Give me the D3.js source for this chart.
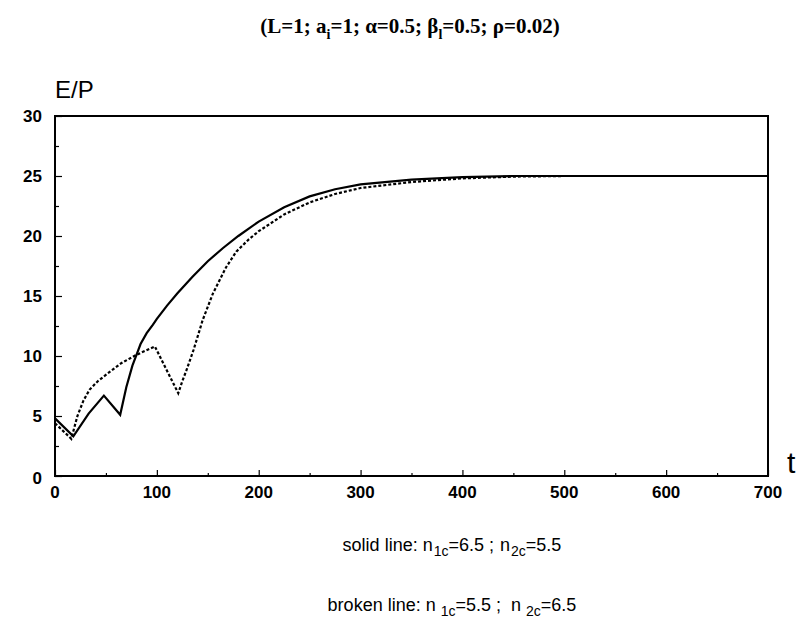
<!DOCTYPE html>
<html>
<head>
<meta charset="utf-8">
<script src="https://cdn.jsdelivr.net/npm/d3@7"></script>
<style>
body { margin: 0; background: #fff; }
text { font-family: "Liberation Sans", Arial, sans-serif; fill: #000; }
</style>
</head>
<body>
<div class="display"></div>
<script>
// solid line: n1c=6.5, n2c=5.5
const solidT = [0, 18, 33, 48, 64, 70, 76, 80, 84, 90, 96, 100, 110, 120, 135, 150, 165, 180, 200, 225, 250, 275, 300, 350, 400, 450, 500, 600, 700];
const solidV = [4.8, 3.3, 5.2, 6.7, 5.1, 7.4, 9.2, 10.1, 11.0, 11.9, 12.6, 13.1, 14.2, 15.2, 16.6, 17.9, 19.0, 20.0, 21.2, 22.4, 23.3, 23.9, 24.3, 24.7, 24.9, 25.0, 25.0, 25.0, 25.0];

// broken line: n1c=5.5, n2c=6.5
const brokenT = [0, 16, 22, 28, 34, 42, 51, 65, 80, 98, 121, 125, 129, 136, 145, 155, 168, 178, 190, 200, 225, 250, 275, 300, 350, 400, 450, 500, 600, 700];
const brokenV = [4.4, 3.1, 5.0, 6.3, 7.2, 7.9, 8.5, 9.4, 10.1, 10.8, 6.9, 7.9, 8.8, 10.5, 13.0, 15.2, 17.4, 18.7, 19.7, 20.4, 21.8, 22.8, 23.5, 24.0, 24.5, 24.8, 24.95, 25.0, 25.0, 25.0];

const xTicks = [0, 100, 200, 300, 400, 500, 600, 700];
const yTicks = [0, 5, 10, 15, 20, 25, 30];

const width = 802;
const height = 639;
const plotLeft = 55, plotRight = 768, plotTop = 116, plotBottom = 476;

const svg = d3.select('.display')
    .append('svg')
    .attr('width', width)
    .attr('height', height);

const xScale = d3.scaleLinear().domain([0, 700]).range([plotLeft, plotRight]);
const yScale = d3.scaleLinear().domain([0, 30]).range([plotBottom, plotTop]);

// frame
svg.append('rect')
    .attr('x', plotLeft).attr('y', plotTop)
    .attr('width', plotRight - plotLeft).attr('height', plotBottom - plotTop)
    .attr('fill', 'none').attr('stroke', '#000').attr('stroke-width', 2);

// inward ticks
const xAxis = d3.axisTop(xScale).tickValues(d3.range(0, 701, 50)).tickSize(5).tickFormat('');
svg.append('g').attr('transform', `translate(0, ${plotBottom})`).call(xAxis)
    .call(g => g.select('.domain').remove())
    .call(g => g.selectAll('.tick line').attr('stroke-width', 1.2)
        .attr('y2', d => d % 100 === 0 ? -6 : -3));

const yAxis = d3.axisRight(yScale).tickValues(d3.range(0, 30.1, 2.5)).tickSize(6).tickFormat('');
svg.append('g').attr('transform', `translate(${plotLeft}, 0)`).call(yAxis)
    .call(g => g.select('.domain').remove())
    .call(g => g.selectAll('.tick line').attr('stroke-width', 1.2)
        .attr('x2', d => d % 5 === 0 ? 7 : 4));

// tick labels
svg.selectAll('.xlab').data(xTicks).enter().append('text')
    .attr('x', d => xScale(d)).attr('y', 498)
    .attr('text-anchor', 'middle').attr('font-size', 17).attr('font-weight', 'bold')
    .text(d => d);

svg.selectAll('.ylab').data(yTicks).enter().append('text')
    .attr('x', 42).attr('y', d => yScale(d) + 6 + (d === 0 ? 2 : 0))
    .attr('text-anchor', 'end').attr('font-size', 17).attr('font-weight', 'bold')
    .text(d => d);

// curves
const line = d3.line().x(d => xScale(d[0])).y(d => yScale(d[1]));

svg.append('path')
    .datum(solidT.map((t, i) => [t, solidV[i]]))
    .attr('d', line).attr('fill', 'none')
    .attr('stroke', '#000').attr('stroke-width', 2.2);

svg.append('path')
    .datum(brokenT.map((t, i) => [t, brokenV[i]]))
    .attr('d', line).attr('fill', 'none')
    .attr('stroke', '#000').attr('stroke-width', 2.2)
    .attr('stroke-dasharray', '3,2');

// axis titles
svg.append('text').attr('x', 55).attr('y', 98).attr('font-size', 24).text('E/P');
svg.append('text').attr('x', 787).attr('y', 473).attr('font-size', 30).text('t');

// parameter title
const title = svg.append('text')
    .attr('x', 410).attr('y', 33).attr('text-anchor', 'middle')
    .style('font-family', '"Liberation Serif", "Times New Roman", serif')
    .attr('font-size', 21).attr('font-weight', 'bold');
title.append('tspan').text('(L=1; a');
title.append('tspan').attr('dy', 6).attr('font-size', 14).text('i');
title.append('tspan').attr('dy', -6).text('=1; α=0.5; β');
title.append('tspan').attr('dy', 6).attr('font-size', 14).text('l');
title.append('tspan').attr('dy', -6).text('=0.5; ρ=0.02)');

// legend notes
function note(y, prefix, n1, n2, gap) {
    const t = svg.append('text').attr('x', 452).attr('y', y)
        .attr('text-anchor', 'middle').attr('font-size', 18);
    t.append('tspan').text(prefix + ' n');
    t.append('tspan').attr('dy', 5).attr('dx', gap).attr('font-size', 14).text('1c');
    t.append('tspan').attr('dy', -5).text('=' + n1 + ' ; ');
    t.append('tspan').attr('dx', gap).text('n');
    t.append('tspan').attr('dy', 5).attr('dx', gap).attr('font-size', 14).text('2c');
    t.append('tspan').attr('dy', -5).text('=' + n2);
}
note(551, 'solid line:', '6.5', '5.5', 1);
note(611, 'broken line:', '5.5', '6.5', 5);
</script>
</body>
</html>
